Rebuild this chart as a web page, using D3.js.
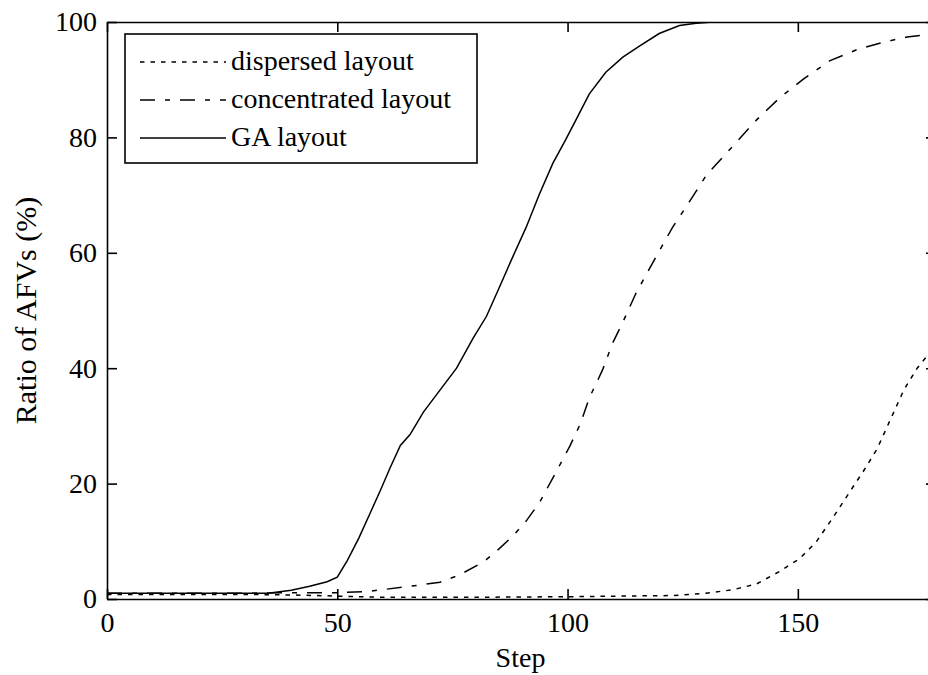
<!DOCTYPE html>
<html>
<head>
<meta charset="utf-8">
<script src="https://cdn.jsdelivr.net/npm/d3@7"></script>
<style>
  body { margin: 0; background: #fff; }
  text { font-family: "Liberation Serif", "Times New Roman", serif; fill: #000; }
</style>
</head>
<body>
<div id="chart"></div>
<script>
// values (step, ratio %)
const gaSteps  = [0, 20, 35, 40, 44, 47.8, 50, 52.2, 54.7, 57.2, 59.4, 61.5, 63.7, 65.8, 68.7, 72.3, 75.9, 79.5, 82.4, 85.3, 88.1, 91, 93.9, 96.8, 99.6, 101.8, 104.7, 108.3, 112, 115.6, 119.9, 124.3, 127.9, 131.6, 180];
const gaValues = [1, 1, 1, 1.5, 2.2, 3, 3.8, 6.7, 10.6, 15, 18.9, 22.8, 26.6, 28.5, 32.4, 36.2, 40, 45.2, 49, 54.2, 59.3, 64.4, 70.2, 75.5, 79.6, 83, 87.5, 91.3, 93.9, 95.8, 98, 99.4, 99.8, 100, 100];

const concSteps  = [0, 30, 42, 50, 56.5, 65.8, 72.3, 76.6, 81.7, 85, 88.1, 91, 93.9, 97.5, 100.5, 102.8, 104.7, 107.6, 109.7, 111.9, 114.8, 119.2, 122.8, 126.5, 130.1, 135.9, 141, 146.1, 151.2, 157, 162.8, 168.6, 173.7, 180];
const concValues = [1, 1, 1.1, 1.1, 1.3, 2.2, 2.9, 4.2, 6.4, 8.6, 10.9, 13.5, 16.7, 22, 26.5, 30.4, 34.8, 39.7, 44.2, 47.8, 52.9, 59.3, 64.4, 68.9, 73.4, 78.5, 83, 86.9, 90.1, 93.3, 95.2, 96.5, 97.4, 98];

const dispSteps  = [0, 30, 40, 50, 60, 80, 100, 122.9, 130, 135.9, 141, 146.1, 150.4, 154, 157.7, 161.3, 164.2, 167.2, 170.1, 173, 175.9, 180];
const dispValues = [0.8, 0.8, 0.7, 0.5, 0.3, 0.3, 0.4, 0.6, 1, 1.6, 2.6, 4.8, 7, 9.9, 14.2, 18.6, 22.1, 26, 31.1, 36.2, 40, 44];

const xTicks = [0, 50, 100, 150];
const yTicks = [0, 20, 40, 60, 80, 100];
const legendLabels = ["dispersed layout", "concentrated layout", "GA layout"];

const width = 928, height = 675;
const plotLeft = 107, plotRight = 936, plotTop = 22, plotBottom = 599;

const x = d3.scaleLinear().domain([0, 180]).range([plotLeft, plotRight]);
const y = d3.scaleLinear().domain([0, 100]).range([plotBottom, plotTop]);

const svg = d3.select("#chart").append("svg")
    .attr("width", width)
    .attr("height", height);

svg.append("clipPath").attr("id", "plot")
  .append("rect")
    .attr("x", plotLeft).attr("y", plotTop)
    .attr("width", plotRight - plotLeft).attr("height", plotBottom - plotTop);

const series = [
  { steps: dispSteps, values: dispValues, dash: "4.5,6" },
  { steps: concSteps, values: concValues, dash: "15,10,5,10" },
  { steps: gaSteps, values: gaValues, dash: null }
];

const line = d3.line()
    .x(d => x(d[0]))
    .y(d => y(d[1]));

series.forEach(s => {
  svg.append("path")
      .datum(d3.zip(s.steps, s.values))
      .attr("clip-path", "url(#plot)")
      .attr("fill", "none")
      .attr("stroke", "#000")
      .attr("stroke-width", 1.5)
      .attr("stroke-dasharray", s.dash)
      .attr("d", line);
});

// axes, matlab style: ticks inside on all four sides
const tickLen = 10;
const fontSize = 28;

const xAxis = svg.append("g")
    .attr("transform", `translate(0,${plotBottom})`)
    .call(d3.axisBottom(x).tickValues(xTicks).tickSize(-tickLen).tickPadding(tickLen + 3).tickSizeOuter(0));
const yAxis = svg.append("g")
    .attr("transform", `translate(${plotLeft},0)`)
    .call(d3.axisLeft(y).tickValues(yTicks).tickSize(-tickLen).tickPadding(10).tickSizeOuter(0));
const xTop = svg.append("g")
    .attr("transform", `translate(0,${plotTop})`)
    .call(d3.axisTop(x).tickValues(xTicks).tickSize(-tickLen).tickFormat("").tickSizeOuter(0));
const yRight = svg.append("g")
    .attr("transform", `translate(${plotRight},0)`)
    .call(d3.axisRight(y).tickValues(yTicks).tickSize(-tickLen).tickFormat("").tickSizeOuter(0));

[xAxis, yAxis, xTop, yRight].forEach(g => {
  g.attr("font-family", null);
  g.select(".domain").attr("stroke", "#000").attr("stroke-width", 1.6);
  g.selectAll(".tick line").attr("stroke", "#000").attr("stroke-width", 1.6);
  g.selectAll("text")
      .attr("font-size", fontSize)
      .attr("fill", "#000");
});

// axis labels
svg.append("text")
    .attr("x", (plotLeft + plotRight) / 2 - 1)
    .attr("y", 667)
    .attr("text-anchor", "middle")
    .attr("font-size", fontSize)
    .text("Step");

svg.append("text")
    .attr("transform", `translate(36,${(plotTop + plotBottom) / 2}) rotate(-90)`)
    .attr("text-anchor", "middle")
    .attr("font-size", 30)
    .text("Ratio of AFVs (%)");

// legend
const legend = svg.append("g");
legend.append("rect")
    .attr("x", 125).attr("y", 34)
    .attr("width", 352).attr("height", 129)
    .attr("fill", "#fff")
    .attr("stroke", "#000")
    .attr("stroke-width", 1.6);

const rowY = [62, 100, 138];
legendLabels.forEach((label, i) => {
  legend.append("line")
      .attr("x1", 140).attr("x2", 226)
      .attr("y1", rowY[i]).attr("y2", rowY[i])
      .attr("stroke", "#000")
      .attr("stroke-width", 1.5)
      .attr("stroke-dasharray", series[i].dash);
  legend.append("text")
      .attr("x", 231)
      .attr("y", rowY[i] + 8)
      .attr("font-size", fontSize)
      .text(label);
});
</script>
</body>
</html>
